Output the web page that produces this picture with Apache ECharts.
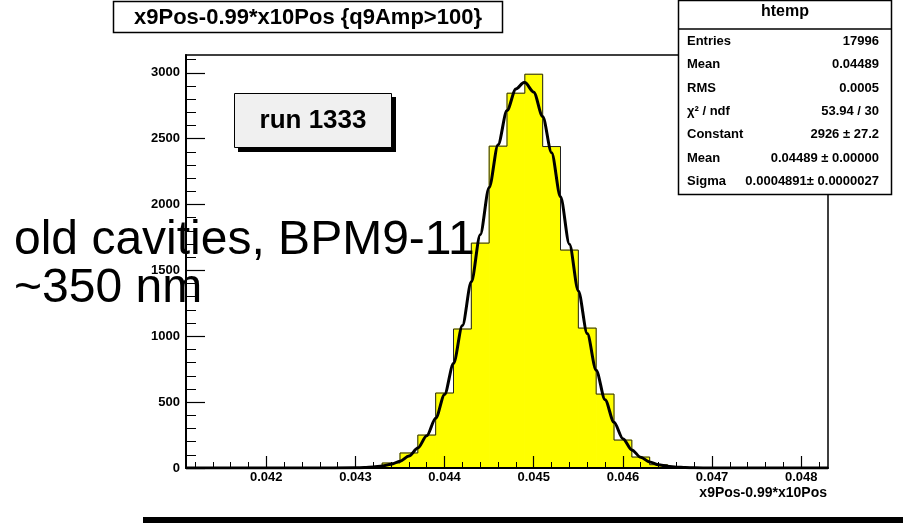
<!DOCTYPE html>
<html><head><meta charset="utf-8">
<script src="https://cdn.jsdelivr.net/npm/echarts@6/dist/echarts.min.js"></script>
<style>html,body{margin:0;padding:0;background:#fff}#c{width:903px;height:525px}</style>
</head><body><div id="c"></div>
<script>
// ---- data ----
const binLowEdges = [0.0429,0.0431,0.0433,0.0435,0.0437,0.0439,0.0441,0.0443,0.0445,0.0447,0.0449,0.0451,0.0453,0.0455,0.0457,0.0459,0.0461,0.0463,0.0465,0.0467];
const binWidth = 0.0002;
const binCounts = [2,8,38,114,250,569,1055,1707,2443,2845,2989,2440,1654,1062,561,212,83,25,6,2];
const fitX = [0.0411,0.0420,0.0425,0.0430,0.0431,0.0432,0.0433,0.0434,0.0435,0.0436,0.0437,0.0438,0.0439,0.0440,0.0441,0.0442,0.0443,0.0444,0.0445,0.0446,0.0447,0.0448,0.04489,0.0449,0.0450,0.0451,0.0452,0.0453,0.0454,0.0455,0.0456,0.0457,0.0458,0.0459,0.0460,0.0461,0.0462,0.0463,0.0464,0.0465,0.0466,0.0467,0.0468,0.0470,0.0475,0.0483];
const fitY = [0,0,0,1.7,3.6,7.5,14.8,28.3,51.6,90.3,151.7,244.3,377.2,558.8,793.8,1081.7,1413.5,1771.4,2129.3,2454.4,2713.3,2876.8,2926,2925.4,2852.9,2668.2,2393.5,2059.0,1698.8,1344.2,1020.3,742.6,518.5,347.0,222.7,137.2,81.0,45.9,24.9,13.0,6.5,3.1,1.4,0.2,0,0];
const xTickValues = [0.042,0.043,0.044,0.045,0.046,0.047,0.048];
const xTickLabels = ['0.042','0.043','0.044','0.045','0.046','0.047','0.048'];
const yTickValues = [0,500,1000,1500,2000,2500,3000];
const yTickLabels = ['0','500','1000','1500','2000','2500','3000'];
const xRange = [0.0411, 0.0483];
const yRange = [0, 3135];
const titleText = 'x9Pos-0.99*x10Pos {q9Amp>100}';
const xAxisTitle = 'x9Pos-0.99*x10Pos';
const statsTitle = 'htemp';
const statsLabels = ['Entries','Mean','RMS','\u03C7\u00B2 / ndf','Constant','Mean','Sigma'];
const statsValues = ['17996','0.04489','0.0005','53.94 / 30','2926 \u00B1 27.2','0.04489 \u00B1 0.00000','0.0004891\u00B1 0.0000027'];
const runLabel = 'run 1333';
const noteLines = ['old cavities, BPM9-11', '~350 nm'];

// ---- build ----
const FONT = '"Liberation Sans", Arial, sans-serif';
const histData = binLowEdges.map((lo, i) => [lo, lo + binWidth, binCounts[i]]);
const outline = [[xRange[0], 0], [binLowEdges[0], 0]];
binLowEdges.forEach((lo, i) => { outline.push([lo, binCounts[i]]); outline.push([lo + binWidth, binCounts[i]]); });
outline.push([binLowEdges[binLowEdges.length - 1] + binWidth, 0]);
outline.push([xRange[1], 0]);
const fitData = fitX.map((x, i) => [x, fitY[i]]);
const xMinor = []; for (let i = 206; i <= 241; i++) xMinor.push(+(i * 0.0002).toFixed(5));
const yMinor = []; for (let i = 1; i <= 31; i++) yMinor.push(i * 100);
function nearestLabel(vals, labels, v) {
  let best = 0; vals.forEach((t, i) => { if (Math.abs(t - v) < Math.abs(vals[best] - v)) best = i; });
  return labels[best];
}

const chart = echarts.init(document.getElementById('c'));
const graphics = [];
// title box
graphics.push({type:'rect', shape:{x:113.5,y:1.5,width:389,height:31}, style:{fill:'#fff',stroke:'#000',lineWidth:1.5}, z:100});
graphics.push({type:'text', x:308, y:18, style:{text:titleText, font:'bold 22px ' + FONT, fill:'#000', textAlign:'center', textVerticalAlign:'middle'}, z:101});
// stats box
graphics.push({type:'rect', shape:{x:678.5,y:0.5,width:213,height:194}, style:{fill:'#fff',stroke:'#000',lineWidth:1.5}, z:100});
graphics.push({type:'line', shape:{x1:678.5,y1:29,x2:891.5,y2:29}, style:{stroke:'#000',lineWidth:1.5}, z:101});
graphics.push({type:'text', x:785, y:12, style:{text:statsTitle, font:'bold 16px ' + FONT, fill:'#000', textAlign:'center', textVerticalAlign:'middle'}, z:101});
statsLabels.forEach((lab, i) => {
  const y = 41.5 + i * 23.3;
  graphics.push({type:'text', x:687, y:y, style:{text:lab, font:'bold 13px ' + FONT, fill:'#000', textAlign:'left', textVerticalAlign:'middle'}, z:101});
  graphics.push({type:'text', x:879, y:y, style:{text:statsValues[i], font:'bold 13px ' + FONT, fill:'#000', textAlign:'right', textVerticalAlign:'middle'}, z:101});
});
// run box with shadow
graphics.push({type:'rect', shape:{x:238,y:97,width:158,height:55}, style:{fill:'#000'}, z:100});
graphics.push({type:'rect', shape:{x:234.5,y:93.5,width:157,height:54}, style:{fill:'#f0f0f0',stroke:'#000',lineWidth:1}, z:101});
graphics.push({type:'text', x:313, y:121, style:{text:runLabel, font:'bold 26px ' + FONT, fill:'#000', textAlign:'center', textVerticalAlign:'middle'}, z:102});
// x axis title
graphics.push({type:'text', x:827, y:493, style:{text:xAxisTitle, font:'bold 14px ' + FONT, fill:'#000', textAlign:'right', textVerticalAlign:'middle'}, z:101});
// overlay note text
noteLines.forEach((t, i) => {
  graphics.push({type:'text', x:14, y:241 + i * 48, style:{text:t, font:'48px ' + FONT, fill:'#000', textAlign:'left', textVerticalAlign:'middle'}, z:110});
});
// bottom slide rule
graphics.push({type:'rect', shape:{x:143,y:517,width:760,height:6}, style:{fill:'#000'}, z:100});

const axisCommon = { min: xRange[0], max: xRange[1], splitLine:{show:false} };
chart.setOption({
  animation: false,
  backgroundColor: '#fff',
  grid: { left: 186, right: 75, top: 55, bottom: 57, show: true, borderColor: '#000', borderWidth: 1.5, backgroundColor: 'transparent' },
  xAxis: [
    Object.assign({ type:'value', z:5,
      axisLine:{show:true, lineStyle:{color:'#000', width:2}},
      axisTick:{show:true, inside:true, length:12, customValues:xTickValues, lineStyle:{color:'#000', width:1.2}},
      axisLabel:{show:true, customValues:xTickValues, margin:3, color:'#000', fontWeight:'bold', fontSize:13, fontFamily:FONT,
        formatter: v => nearestLabel(xTickValues, xTickLabels, v)} }, axisCommon),
    Object.assign({ type:'value', z:5, position:'bottom',
      axisLine:{show:false},
      axisTick:{show:true, inside:true, length:6, customValues:xMinor, lineStyle:{color:'#000', width:1}},
      axisLabel:{show:false} }, axisCommon)
  ],
  yAxis: [
    { type:'value', min:yRange[0], max:yRange[1], z:5, splitLine:{show:false},
      axisLine:{show:true, lineStyle:{color:'#000', width:2}},
      axisTick:{show:true, inside:true, length:19, customValues:yTickValues, lineStyle:{color:'#000', width:1.2}},
      axisLabel:{show:true, customValues:yTickValues, margin:6, color:'#000', fontWeight:'bold', fontSize:13, fontFamily:FONT,
        formatter: v => nearestLabel(yTickValues, yTickLabels, v)} },
    { type:'value', min:yRange[0], max:yRange[1], z:5, position:'left', splitLine:{show:false},
      axisLine:{show:false},
      axisTick:{show:true, inside:true, length:10, customValues:yMinor, lineStyle:{color:'#000', width:1}},
      axisLabel:{show:false} }
  ],
  series: [
    { type:'custom', xAxisIndex:0, yAxisIndex:0, data: histData, encode:{x:[0,1], y:2}, z:2,
      renderItem: (params, api) => {
        const p0 = api.coord([api.value(0), api.value(2)]);
        const p1 = api.coord([api.value(1), 0]);
        return { type:'rect', shape:{x:p0[0], y:p0[1], width:p1[0]-p0[0], height:p1[1]-p0[1]}, style:{fill:'#ffff00', stroke:'#ffff00', lineWidth:1} };
      } },
    { type:'line', xAxisIndex:0, yAxisIndex:0, data: outline, symbol:'none', z:3, lineStyle:{color:'#222', width:1} },
    { type:'line', xAxisIndex:0, yAxisIndex:0, data: fitData, symbol:'none', z:4, smooth:0.3, smoothMonotone:'x', lineStyle:{color:'#000', width:3} }
  ],
  graphic: graphics
});
</script>
</body></html>
